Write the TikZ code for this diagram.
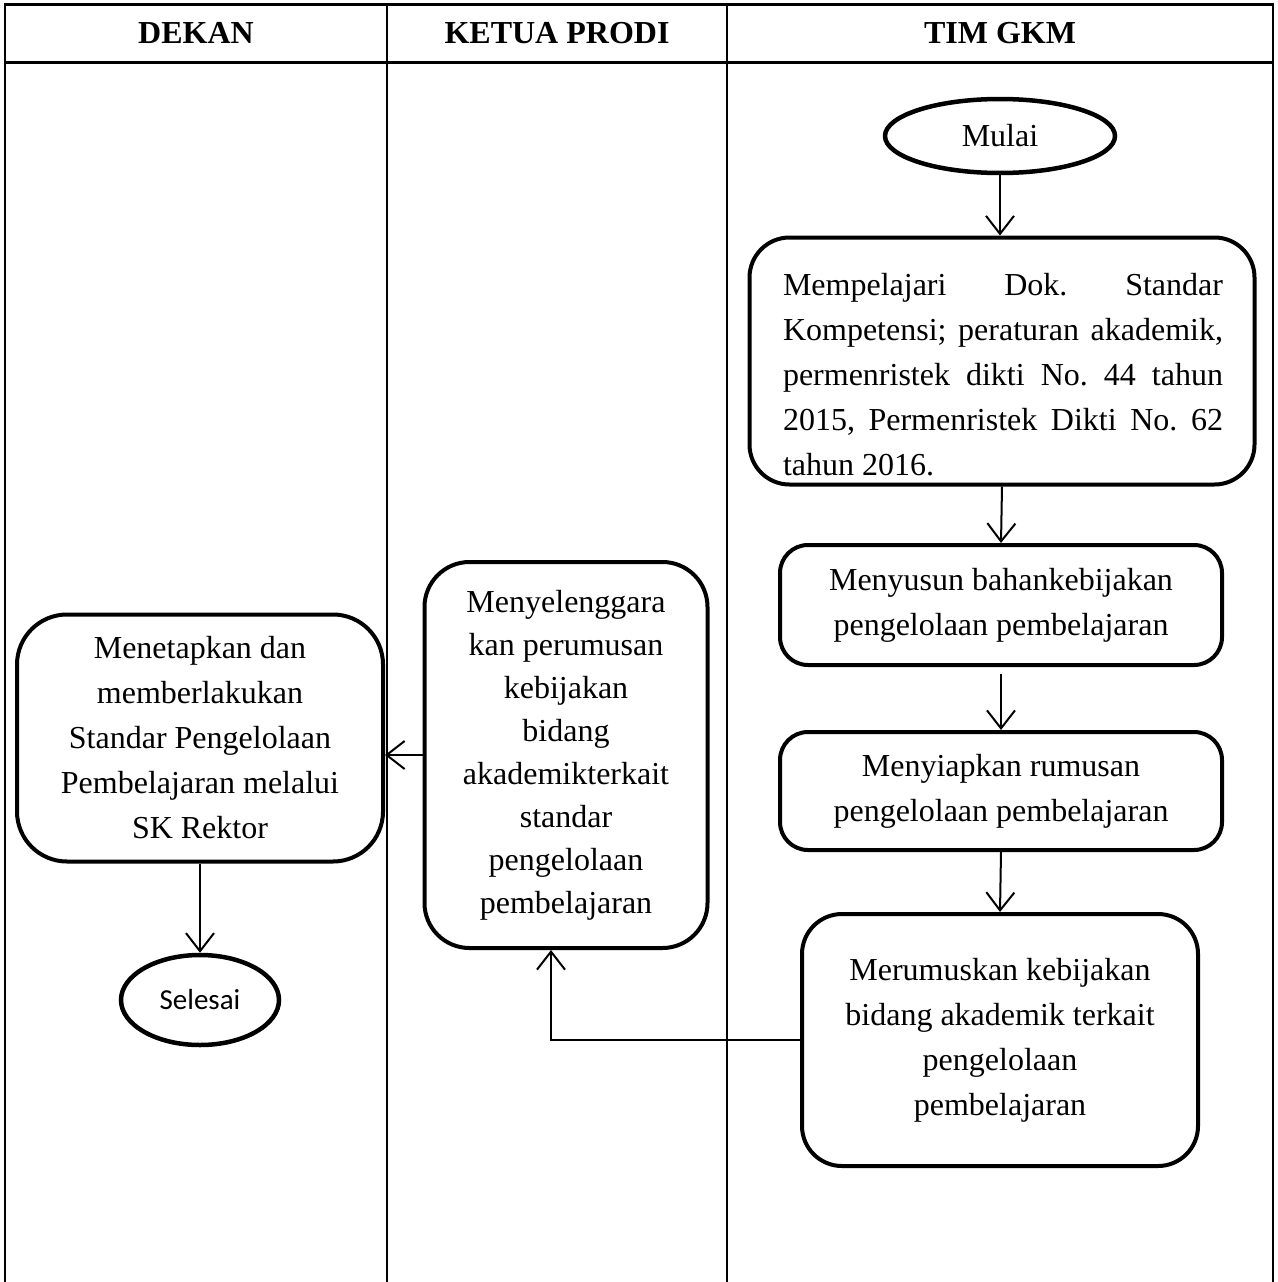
\documentclass[tikz,border=0pt]{standalone}
\usepackage{fontspec}
\setmainfont{Liberation Serif}
\newfontfamily\calibrifont{Carlito}
\usetikzlibrary{arrows.meta,shapes.geometric}
\frenchspacing

\begin{document}
\begin{tikzpicture}[
  x=1pt, y=-1pt,
  >={Straight Barb[length=18pt,width=28pt]},
  box/.style={draw, line width=4pt, rounded corners=#1, align=center,
    inner sep=0pt, font=\fontsize{32}{45}\selectfont},
  box/.default=30pt,
  terminal/.style={draw, ellipse, line width=4.5pt, inner sep=0pt,
    font=\fontsize{32}{38}\selectfont},
  head/.style={font=\fontsize{32}{38}\selectfont\bfseries},
  lane/.style={line width=2pt},
  flow/.style={->, line width=2pt}
]
\useasboundingbox (0,0) rectangle (1277,1282);
\draw[line width=3pt] (4,4) -- (1273,4);
\draw[line width=3pt] (4,62) -- (1273,62);
\foreach \x in {5,387,727,1273}
  \draw[lane] (\x,3) -- (\x,1282);
\node[head] (dekan) at (196,33) {DEKAN};
\node[head] (kaprodi) at (557,33) {KETUA PRODI};
\node[head] (gkm) at (1000,33) {TIM GKM};
\node[terminal, minimum width=230pt, minimum height=74pt] (start) at (1000,136) {Mulai};
\node[box=40pt, minimum width=505pt, minimum height=247pt] (study) at (1002,361) {};
\node[font=\fontsize{32}{45}\selectfont, text width=440pt, align=justify,
  inner sep=0pt] (studytext) at (1003,375)
  {Mempelajari Dok. Standar\linebreak Kompetensi; peraturan akademik,\linebreak
   permenristek dikti No. 44 tahun\linebreak 2015, Permenristek Dikti No. 62\linebreak
   tahun 2016.};
\node[box=28pt, minimum width=442pt, minimum height=120pt] (draft) at (1001,605)
  {Menyusun bahankebijakan\\pengelolaan pembelajaran};
\node[box=28pt, minimum width=442pt, minimum height=118pt] (prepare) at (1001,791)
  {Menyiapkan rumusan\\pengelolaan pembelajaran};
\node[box=40pt, minimum width=396pt, minimum height=252pt] (formulate) at (1000,1040)
  {Merumuskan kebijakan\\bidang akademik terkait\\pengelolaan\\pembelajaran};
\node[box=45pt, minimum width=283pt, minimum height=386pt,
  font=\fontsize{32}{43}\selectfont] (hold) at (566,755)
  {Menyelenggara\\kan perumusan\\kebijakan\\bidang\\akademikterkait\\standar\\pengelolaan\\pembelajaran};
\node[box=50pt, minimum width=366pt, minimum height=247pt] (decide) at (200,738)
  {Menetapkan dan\\memberlakukan\\Standar Pengelolaan\\Pembelajaran melalui\\SK Rektor};
\node[terminal, minimum width=158pt, minimum height=90pt,
  font=\fontsize{29}{35}\calibrifont] (finish) at (200,1000) {Selesai};
\draw[flow] (start.south) -- (start.south |- study.north);
\draw[flow] (study.south) -- (draft.north);
\draw[flow] ([yshift=-7pt]draft.south) -- (prepare.north);
\draw[flow] (prepare.south) -- (formulate.north);
\coordinate (back) at ([xshift=-15pt]hold.south);
\draw[flow] (formulate.west) -| (back);
\draw[flow] (hold.west) -- (hold.west -| decide.east);
\draw[flow] (decide.south) -- (finish.north);
\end{tikzpicture}
\end{document}
